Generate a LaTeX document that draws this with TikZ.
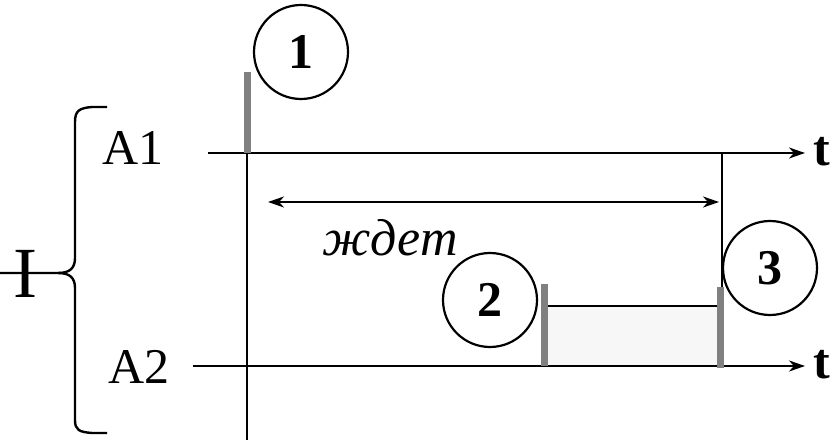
\documentclass[tikz,border=0pt]{standalone}
\usepackage{fontspec}
\setmainfont{Liberation Serif}
\usetikzlibrary{arrows.meta}
\definecolor{barg}{HTML}{808080}
\definecolor{boxg}{HTML}{F7F7F7}
\tikzset{
  ln/.style={line width=2.4pt},
  axis/.style={ln,-{Stealth[length=16pt,width=11pt,inset=5pt]}},
  dbl/.style={ln,{Stealth[length=16pt,width=11pt,inset=5pt]}-{Stealth[length=16pt,width=11pt,inset=5pt]}},
  bar/.style={line width=7pt,draw=barg},
  num/.style={circle,draw,line width=2.2pt,minimum size=94pt,inner sep=0pt,font=\fontsize{50}{60}\selectfont\bfseries},
  lbl/.style={inner sep=0pt,font=\fontsize{50}{60}\selectfont},
  tl/.style={inner sep=0pt,font=\fontsize{50}{60}\selectfont\bfseries},
}
\begin{document}
\begin{tikzpicture}[x=1pt,y=-1pt]
\useasboundingbox (0,0) rectangle (832,443);
% coordinates
\coordinate (a1s) at (208,153);
\coordinate (a1e) at (805,153);
\coordinate (a2s) at (193,366);
\coordinate (a2e) at (805,366);
\coordinate (vtop) at (247,153);
\coordinate (vbot) at (247,440);
\coordinate (b1top) at (247,72);
\coordinate (rtop) at (722,153);
\coordinate (rbot) at (722,287);
\coordinate (dl) at (268,202);
\coordinate (dr) at (719,202);
\coordinate (lb1) at (544,284);
\coordinate (lb2) at (544,366);
\coordinate (rb1) at (720,287);
\coordinate (rb2) at (720,368);
% box
\fill[boxg] (544,306) rectangle (720,366);
\draw[ln] (544,306) -- (720,306);
% axes
\draw[axis] (a1s) -- (a1e);
\draw[axis] (a2s) -- (a2e);
\draw[ln] (544,366) -- (720,366);
% vertical lines
\draw[ln] (vtop) -- (vbot);
\draw[ln] (rtop) -- (rbot);
% gray bars
\draw[bar] (b1top) -- (vtop);
\draw[bar] (lb1) -- (lb2);
\draw[bar] (rb1) -- (rb2);
% double arrow
\draw[dbl] (dl) -- (dr);
% circles
\node[num] (c1) at (301,52) {1};
\node[num] (c2) at (490,300) {2};
\node[num] (c3) at (770,268) {3};
% labels
\node[lbl] (A1) at (133,148) {A1};
\node[lbl] (A2) at (139,367) {A2};
\node[tl] (t1) at (822,152) {t};
\node[tl] (t2) at (822,365) {t};
\node[inner sep=0pt,font=\fontsize{52}{60}\selectfont\itshape] (w) at (390,238) {ждет};
\node[inner sep=0pt,font=\fontsize{72}{80}\selectfont] (I) at (25,274) {I};
% brace
\draw[ln] (107,107) -- (92,107) .. controls (79,108) and (75,111) .. (75,122)
  -- (75,258) .. controls (75,268) and (70,273) .. (58,273) -- (0,273);
\draw[ln] (58,273) .. controls (70,273) and (75,278) .. (75,288)
  -- (75,420) .. controls (75,430) and (79,432) .. (92,433) -- (107,433);
\end{tikzpicture}
\end{document}
